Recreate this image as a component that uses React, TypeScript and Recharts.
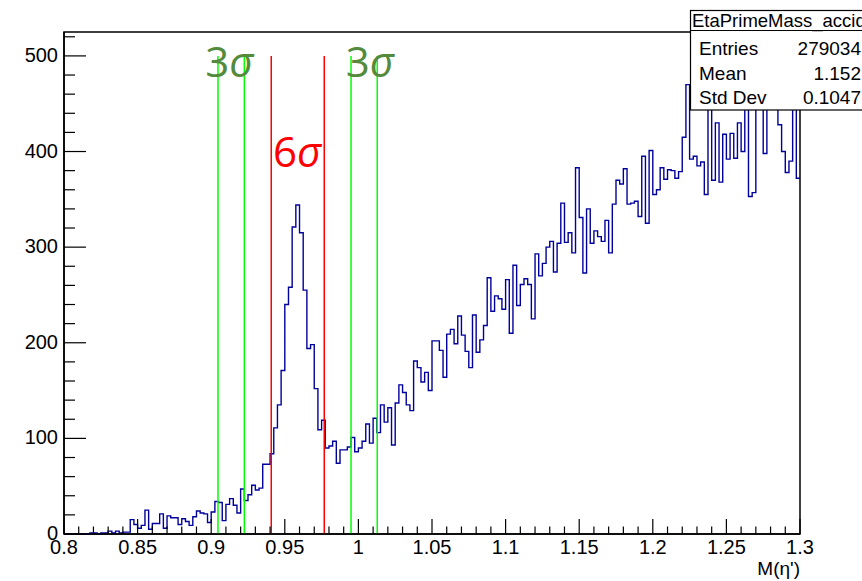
import { LineChart, Line, XAxis, YAxis, ReferenceLine, ReferenceDot, ReferenceArea } from "recharts";

// EtaPrimeMass_accid histogram, 200 bins of 0.0025 from 0.8 to 1.3
const binStart = 0.8;
const binWidth = 0.0025;
const counts = [
  0, 0, 0, 0, 0, 0,
  0, 1, 1, 0, 1, 1,
  3, 1, 3, 1, 2, 2,
  15, 10, 6, 9, 25, 5, 11, 11, 21, 6,
  19, 17, 17, 10, 16, 13, 9, 18, 24, 22,
  21, 12, 23, 34, 33, 14, 31, 37, 30, 22,
  47, 35, 41, 51, 46, 48, 73, 73, 84, 111,
  135, 171, 240, 258, 321, 344, 315, 255, 194, 198,
  152, 109, 119, 90, 92, 97, 74, 88, 88, 91,
  101, 86, 90, 97, 115, 95, 121, 106, 135, 117,
  132, 93, 137, 156, 148, 135, 129, 181, 174, 159,
  169, 150, 202, 202, 192, 164, 209, 214, 199, 228,
  208, 191, 174, 229, 190, 203, 218, 268, 233, 249,
  246, 235, 266, 210, 281, 239, 261, 267, 261, 225,
  293, 270, 283, 300, 306, 274, 304, 346, 305, 315,
  294, 383, 331, 273, 340, 304, 317, 311, 306, 328,
  294, 345, 370, 366, 382, 345, 346, 348, 332, 395,
  325, 401, 355, 360, 383, 371, 381, 380, 372, 379,
  415, 470, 392, 395, 385, 389, 355, 480, 370, 430,
  368, 418, 392, 419, 393, 430, 400, 460, 353, 357,
  490, 470, 398, 500, 465, 475, 428, 400, 378, 390, 460, 372,
];

const greenLines = [0.9046, 0.9225, 0.995, 1.0128];
const redLines = [0.9408, 0.9768];
const lineTop = 500;

const sigmaLabels = [
  { x: 0.9124, y: 478, n: "3", color: "#548a3c" },
  { x: 1.0079, y: 478, n: "3", color: "#548a3c" },
  { x: 0.9585, y: 384, n: "6", color: "#ff0000" },
];

const statTitle = "EtaPrimeMass_accid";
const statRows = [
  ["Entries", "279034"],
  ["Mean", "1.152"],
  ["Std Dev", "0.1047"],
];

const histData = counts
  .map((c, i) => ({ x: binStart + i * binWidth, count: c }))
  .concat([{ x: binStart + counts.length * binWidth, count: counts[counts.length - 1] }]);

const xTicks: number[] = [];
for (let i = 0; i <= 50; i++) xTicks.push(Number((0.8 + i * 0.01).toFixed(2)));
const yTicks: number[] = [];
for (let v = 0; v <= 520; v += 20) yTicks.push(v);

const FONT = "'Liberation Sans', Arial, Helvetica, sans-serif";

const XTick = ({ x, y, payload }: any) => {
  const v = payload.value;
  const major = Math.abs(v * 20 - Math.round(v * 20)) < 1e-6;
  return (
    <g>
      <line x1={x} y1={y} x2={x} y2={y - (major ? 15 : 7.5)} stroke="#000" strokeWidth={1.2} />
      {major && (
        <text x={x} y={y + 20} textAnchor="middle" fontSize={20} fontFamily={FONT} fill="#000">
          {String(Number(v.toFixed(2)))}
        </text>
      )}
    </g>
  );
};

const YTick = ({ x, y, payload }: any) => {
  const major = payload.value % 100 === 0;
  return (
    <g>
      <line x1={x} y1={y} x2={x + (major ? 22 : 11)} y2={y} stroke="#000" strokeWidth={1.2} />
      {major && (
        <text x={x - 6} y={y + 6} textAnchor="end" fontSize={20} fontFamily={FONT} fill="#000">
          {payload.value}
        </text>
      )}
    </g>
  );
};

export default function App() {
  return (
    <div style={{ position: "absolute", left: 0, top: 0, width: 862, height: 581, overflow: "hidden", background: "#fff" }}>
      <LineChart width={862} height={581} data={histData} margin={{ top: 32, right: 62, left: 0, bottom: 0 }}>
        <XAxis
          dataKey="x"
          type="number"
          domain={[0.8, 1.3]}
          ticks={xTicks}
          interval={0}
          tickSize={0}
          tickMargin={0}
          tickLine={false}
          tick={<XTick />}
          height={47}
          axisLine={{ stroke: "#000", strokeWidth: 1.5 }}
          label={{ value: "M(η')", position: "insideBottomRight", offset: 0, dy: -6, fontSize: 19, fontFamily: FONT, fill: "#000" }}
        />
        <YAxis
          type="number"
          domain={[0, 525]}
          ticks={yTicks}
          interval={0}
          tickSize={0}
          tickMargin={0}
          tickLine={false}
          tick={<YTick />}
          width={64}
          axisLine={{ stroke: "#000", strokeWidth: 1.5 }}
        />
        <ReferenceArea x1={0.8} x2={1.3} y1={0} y2={525} fill="none" stroke="#000" strokeWidth={1.5} />
        <Line
          type="stepAfter"
          dataKey="count"
          stroke="#00009c"
          strokeWidth={1.4}
          dot={false}
          activeDot={false}
          isAnimationActive={false}
        />
        {greenLines.map((v) => (
          <ReferenceLine key={`g${v}`} segment={[{ x: v, y: 0 }, { x: v, y: lineTop }]} stroke="#00ff00" strokeWidth={1.5} />
        ))}
        {redLines.map((v) => (
          <ReferenceLine key={`r${v}`} segment={[{ x: v, y: 0 }, { x: v, y: lineTop }]} stroke="#ff0000" strokeWidth={1.5} />
        ))}
        {sigmaLabels.map((l) => (
          <ReferenceDot
            key={`s${l.x}`}
            x={l.x}
            y={l.y}
            r={0}
            shape={(p: any) => (
              <text x={p.cx} y={p.cy} textAnchor="middle" fontSize={42} fontFamily="'Open Sans', sans-serif" fill={l.color}>
                {l.n}
                <tspan fontStyle="italic">σ</tspan>
              </text>
            )}
          />
        ))}
      </LineChart>
      <svg width={862} height={581} style={{ position: "absolute", left: 0, top: 0, pointerEvents: "none" }}>
        <rect x={690.5} y={10.5} width={200} height={99.5} fill="#fff" stroke="#000" strokeWidth={1.2} />
        <line x1={690} y1={30.5} x2={862} y2={30.5} stroke="#000" strokeWidth={1.2} />
        <text x={692} y={27} fontSize={18.5} fontFamily={FONT} fill="#000">
          {statTitle}
        </text>
        {statRows.map((r, i) => (
          <g key={r[0]}>
            <text x={699} y={55 + i * 24.5} fontSize={19} fontFamily={FONT} fill="#000">
              {r[0]}
            </text>
            <text x={861} y={55 + i * 24.5} textAnchor="end" fontSize={19} fontFamily={FONT} fill="#000">
              {r[1]}
            </text>
          </g>
        ))}
      </svg>
    </div>
  );
}
